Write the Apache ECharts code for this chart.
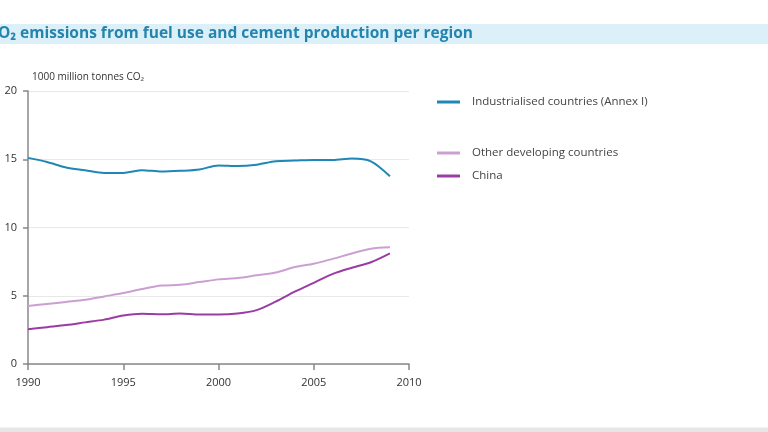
<!DOCTYPE html>
<html><head><meta charset="utf-8">
<script src="https://cdn.jsdelivr.net/npm/echarts@6/dist/echarts.min.js"></script>
<style>html,body{margin:0;padding:0;background:#fff}#c{width:768px;height:432px}</style>
</head><body><div id="c"></div>
<script>
var years = [1990,1991,1992,1993,1994,1995,1996,1997,1998,1999,2000,2001,2002,2003,2004,2005,2006,2007,2008,2009];
var industrialised = [15.1,14.8,14.4,14.2,14.0,14.0,14.2,14.1,14.15,14.25,14.55,14.5,14.6,14.85,14.9,14.95,14.95,15.05,14.85,13.75];
var otherDeveloping = [4.25,4.4,4.55,4.7,4.95,5.2,5.5,5.75,5.8,6.0,6.2,6.3,6.5,6.7,7.1,7.35,7.7,8.1,8.45,8.55];
var china = [2.55,2.7,2.85,3.05,3.25,3.55,3.68,3.64,3.7,3.62,3.62,3.7,3.95,4.57,5.3,5.95,6.6,7.05,7.45,8.1];
var seriesNames = ['Industrialised countries (Annex I)','Other developing countries','China'];
var colors = ['#1f87b5','#cc9fd3','#9a3ca3'];
var xTicks = [1990,1995,2000,2005,2010];
var yTicks = [0,5,10,15,20];

function pairs(v){return years.map(function(y,i){return [y,v[i]];});}
var chart = echarts.init(document.getElementById('c'));
var font = '"Open Sans", sans-serif';
function legend(i, top){
  return {data:[seriesNames[i]], left:432, top:top, itemWidth:23, itemHeight:3, icon:'rect',
    textStyle:{fontFamily:font,fontSize:11.5,color:'#444',padding:[0,0,0,7]}, selectedMode:false};
}
chart.setOption({
  animation:false,
  graphic:[
    {type:'rect', shape:{x:0,y:24,width:768,height:20}, style:{fill:'#dcf0fa'}, z:-1},
    {type:'text', x:-12, y:34, style:{text:'CO₂ emissions from fuel use and cement production per region', font:'bold 15.5px "Open Sans", sans-serif', fill:'#2584ad', textVerticalAlign:'middle'}},
    {type:'rect', shape:{x:0,y:428,width:768,height:4}, style:{fill:'#e6e6e6'}},
    {type:'rect', shape:{x:0,y:427,width:768,height:1}, style:{fill:'#f2f2f2'}}
  ],
  legend:[legend(0,91), legend(1,142), legend(2,165)],
  grid:{left:28,right:359,top:91,bottom:68},
  xAxis:{type:'value',min:1990,max:2010,interval:5,
    axisLine:{lineStyle:{color:'#888',width:1.5}},
    axisTick:{show:true,length:6,lineStyle:{color:'#888',width:1.5}},
    axisLabel:{fontFamily:font,fontSize:11,color:'#333',margin:13,formatter:function(v){return xTicks.indexOf(v)>=0?String(v):'';}},
    splitLine:{show:false}},
  yAxis:{type:'value',min:0,max:20,interval:5,
    name:'1000 million tonnes CO₂', nameGap:9,
    nameTextStyle:{fontFamily:font,fontSize:10,color:'#333',align:'left',padding:[0,0,0,4]},
    axisLine:{show:true,lineStyle:{color:'#888',width:1.5}},
    axisTick:{show:true,length:5,lineStyle:{color:'#888',width:1.5}},
    axisLabel:{fontFamily:font,fontSize:11,color:'#333',margin:11,formatter:function(v){return yTicks.indexOf(v)>=0?String(v):'';}},
    splitLine:{show:true,lineStyle:{color:'#e8e8e8',width:1}}},
  series:[
    {name:seriesNames[0],type:'line',data:pairs(industrialised),smooth:0.3,showSymbol:false,lineStyle:{color:colors[0],width:2},itemStyle:{color:colors[0]}},
    {name:seriesNames[1],type:'line',data:pairs(otherDeveloping),smooth:0.3,showSymbol:false,lineStyle:{color:colors[1],width:2},itemStyle:{color:colors[1]}},
    {name:seriesNames[2],type:'line',data:pairs(china),smooth:0.3,showSymbol:false,lineStyle:{color:colors[2],width:2},itemStyle:{color:colors[2]}}
  ]
});
</script></body></html>
